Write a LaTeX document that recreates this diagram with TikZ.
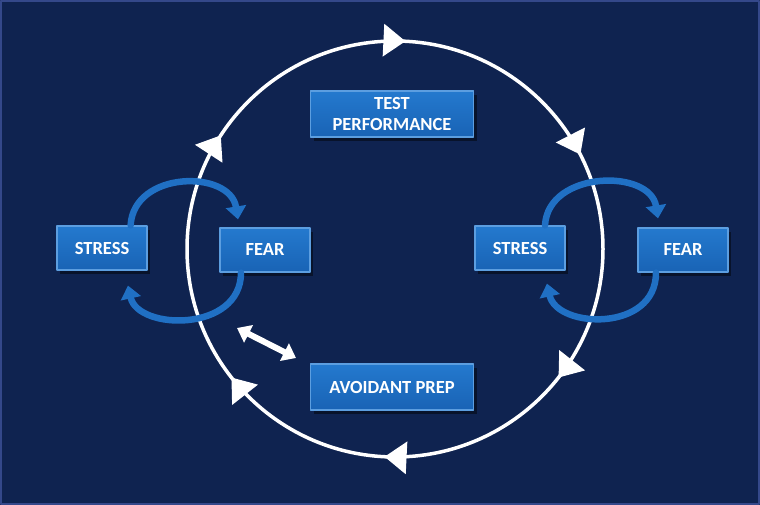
\documentclass[tikz,border=0pt]{standalone}
\usepackage{fontspec}
\setmainfont{Carlito}
\usetikzlibrary{arrows.meta,shadows,decorations.markings}
\definecolor{navy}{HTML}{0F2350}
\definecolor{navyedge}{HTML}{34488A}
\definecolor{boxtop}{HTML}{2479CE}
\definecolor{boxbot}{HTML}{1963B5}
\definecolor{boxedge}{HTML}{5C9EE0}
\definecolor{swirlblue}{HTML}{2070C4}
\tikzset{
  box/.style={draw=boxedge, line width=1.2pt, top color=boxtop, bottom color=boxbot,
    text=white, font=\fontsize{18.5}{21}\selectfont\bfseries, align=center,
    minimum width=90pt, minimum height=44pt, inner sep=0pt,
    drop shadow={shadow xshift=3pt, shadow yshift=-4pt, opacity=0.45, fill=black}},
  widebox/.style={box, minimum width=163pt, minimum height=46pt},
  swirl/.style={swirlblue, line width=6.5pt, -{Triangle[width=20pt,length=13pt]}},
  twoway/.style={white, line width=6pt, {Triangle[width=19pt,length=13pt]}-{Triangle[width=19pt,length=13pt]}},
  ringtip/.style={white, line width=3.5pt, postaction={decorate},
    decoration={markings,
      mark=at position 0.106 with {\arrow{Triangle[width=32pt,length=22pt]}},
      mark=at position 0.258 with {\arrow{Triangle[width=32pt,length=22pt]}},
      mark=at position 0.394 with {\arrow{Triangle[width=32pt,length=22pt]}},
      mark=at position 0.592 with {\arrow{Triangle[width=32pt,length=22pt]}},
      mark=at position 0.758 with {\arrow{Triangle[width=32pt,length=22pt]}},
      mark=at position 0.925 with {\arrow{Triangle[width=32pt,length=22pt]}}}},
}
\begin{document}
\begin{tikzpicture}[x=1pt, y=-1pt, line join=round, line cap=round]
  \def\W{760} \def\H{505} % canvas
  \useasboundingbox (0,0) rectangle (\W,\H);
  \fill[navy] (0,0) rectangle (\W,\H);
  \draw[navyedge, line width=2pt] (1,1) rectangle (\W-1,\H-1);
  % the cycle
  \coordinate (hub) at (395,249);
  \draw[ringtip] (hub) circle (208);
  % boxes
  \node[widebox] (test) at (392,114) {TEST\\PERFORMANCE};
  \node[widebox] (prep) at (392,387) {AVOIDANT PREP};
  \node[box] (stressL) at (102,248) {STRESS};
  \node[box] (fearL) at (265,250) {FEAR};
  \node[box] (stressR) at (520,248) {STRESS};
  \node[box] (fearR) at (683,250) {FEAR};
  % loops
  \draw[swirl] ([xshift=-17pt]stressL.north east) .. controls +(3,-55) and +(-8,-50) .. ([xshift=-27pt,yshift=8pt]fearL.north);
  \draw[swirl] ([xshift=-24pt]fearL.south) .. controls +(0,60) and +(10,45) .. ([xshift=26pt,yshift=-15pt]stressL.south);
  \draw[swirl] ([xshift=25pt]stressR.north) .. controls +(3,-55) and +(-8,-50) .. ([xshift=-25pt,yshift=9pt]fearR.north);
  \draw[swirl] ([xshift=-27pt]fearR.south) .. controls +(0,60) and +(10,45) .. ([xshift=27pt,yshift=-13pt]stressR.south);
  % fear <-> prep
  \coordinate (nearFear) at (237,328);
  \coordinate (nearPrep) at (296,358);
  \draw[twoway] (nearFear) -- (nearPrep);
\end{tikzpicture}
\end{document}
